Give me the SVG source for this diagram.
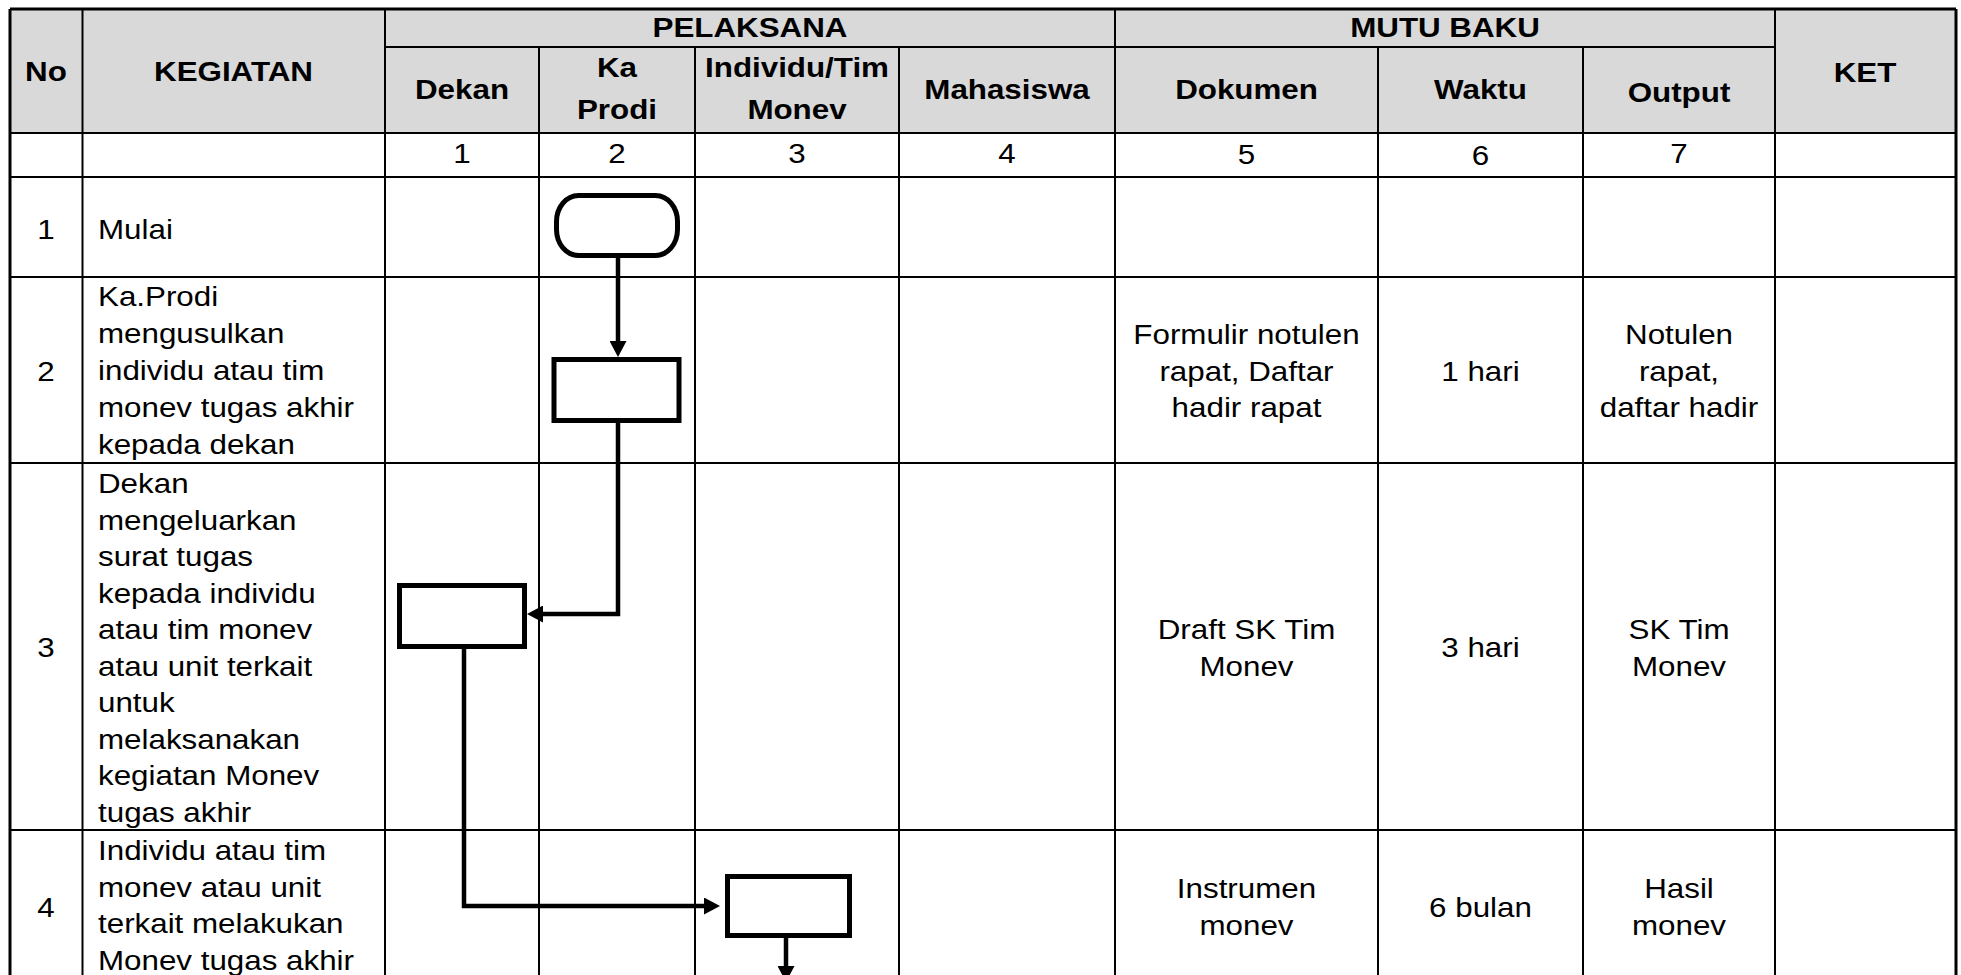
<svg xmlns="http://www.w3.org/2000/svg" width="1961" height="975" viewBox="0 0 1961 975">
<style>
  .t { font-family: "Liberation Sans", Arial, sans-serif; font-size: 28.5px; fill: #000; }
  .b { font-weight: bold; }
  .m { text-anchor: middle; }
  .grid { stroke: #000; stroke-width: 2; fill: none; }
  .outer { stroke: #000; stroke-width: 3; fill: none; }
  .shape { fill: #fff; stroke: #000; stroke-width: 5; }
  .conn { fill: none; stroke: #000; stroke-width: 4.5; }
</style>
<defs>
  <marker id="ah" markerUnits="userSpaceOnUse" markerWidth="16" markerHeight="17" viewBox="0 0 16 17" refX="8" refY="8.5" orient="auto">
    <path d="M0,0 L16,8.5 L0,17 Z" fill="#000"/>
  </marker>
</defs>
<rect width="1961" height="975" fill="#fff"/>

<g id="table">
  <rect x="10" y="9" width="1946" height="124" fill="#d9d9d9"/>
  <g class="grid">
    <line x1="385" y1="47" x2="1775" y2="47"/>
    <line x1="10" y1="133" x2="1956" y2="133"/>
    <line x1="10" y1="177" x2="1956" y2="177"/>
    <line x1="10" y1="277" x2="1956" y2="277"/>
    <line x1="10" y1="463" x2="1956" y2="463"/>
    <line x1="10" y1="830" x2="1956" y2="830"/>
    <line x1="82.5" y1="9" x2="82.5" y2="975"/>
    <line x1="385" y1="9" x2="385" y2="975"/>
    <line x1="539" y1="47" x2="539" y2="975"/>
    <line x1="695" y1="47" x2="695" y2="975"/>
    <line x1="899" y1="47" x2="899" y2="975"/>
    <line x1="1115" y1="9" x2="1115" y2="975"/>
    <line x1="1378" y1="47" x2="1378" y2="975"/>
    <line x1="1583" y1="47" x2="1583" y2="975"/>
    <line x1="1775" y1="9" x2="1775" y2="975"/>
  </g>
  <g class="outer">
    <line x1="10" y1="9" x2="1956" y2="9"/>
    <line x1="10" y1="9" x2="10" y2="975"/>
    <line x1="1956" y1="9" x2="1956" y2="975"/>
  </g>

  <g class="t b m">
    <text transform="translate(46 81) scale(1.1 1)">No</text>
    <text transform="translate(233.5 81) scale(1.1 1)">KEGIATAN</text>
    <text transform="translate(750 37) scale(1.1 1)">PELAKSANA</text>
    <text transform="translate(1445 37) scale(1.1 1)">MUTU BAKU</text>
    <text transform="translate(1865 82) scale(1.1 1)">KET</text>
    <text transform="translate(462 99) scale(1.1 1)">Dekan</text>
    <text transform="translate(617 77) scale(1.1 1)">Ka</text>
    <text transform="translate(617 119) scale(1.1 1)">Prodi</text>
    <text transform="translate(797 77) scale(1.1 1)">Individu/Tim</text>
    <text transform="translate(797 119) scale(1.1 1)">Monev</text>
    <text transform="translate(1007 99) scale(1.1 1)">Mahasiswa</text>
    <text transform="translate(1246.5 99) scale(1.1 1)">Dokumen</text>
    <text transform="translate(1480.5 99) scale(1.1 1)">Waktu</text>
    <text transform="translate(1679 102) scale(1.1 1)">Output</text>
  </g>

  <g class="t m">
    <text transform="translate(462 163) scale(1.1 1)">1</text>
    <text transform="translate(617 163) scale(1.1 1)">2</text>
    <text transform="translate(797 163) scale(1.1 1)">3</text>
    <text transform="translate(1007 163) scale(1.1 1)">4</text>
    <text transform="translate(1246.5 164) scale(1.1 1)">5</text>
    <text transform="translate(1480.5 165) scale(1.1 1)">6</text>
    <text transform="translate(1679 163) scale(1.1 1)">7</text>

    <text transform="translate(46 239) scale(1.1 1)">1</text>
    <text transform="translate(46 381) scale(1.1 1)">2</text>
    <text transform="translate(46 657) scale(1.1 1)">3</text>
    <text transform="translate(46 917) scale(1.1 1)">4</text>

    <text transform="translate(1246.5 344) scale(1.1 1)">Formulir notulen</text>
    <text transform="translate(1246.5 381) scale(1.1 1)">rapat, Daftar</text>
    <text transform="translate(1246.5 417) scale(1.1 1)">hadir rapat</text>
    <text transform="translate(1480.5 381) scale(1.1 1)">1 hari</text>
    <text transform="translate(1679 344) scale(1.1 1)">Notulen</text>
    <text transform="translate(1679 381) scale(1.1 1)">rapat,</text>
    <text transform="translate(1679 417) scale(1.1 1)">daftar hadir</text>

    <text transform="translate(1246.5 639) scale(1.1 1)">Draft SK Tim</text>
    <text transform="translate(1246.5 676) scale(1.1 1)">Monev</text>
    <text transform="translate(1480.5 657) scale(1.1 1)">3 hari</text>
    <text transform="translate(1679 639) scale(1.1 1)">SK Tim</text>
    <text transform="translate(1679 676) scale(1.1 1)">Monev</text>

    <text transform="translate(1246.5 898) scale(1.1 1)">Instrumen</text>
    <text transform="translate(1246.5 935) scale(1.1 1)">monev</text>
    <text transform="translate(1480.5 917) scale(1.1 1)">6 bulan</text>
    <text transform="translate(1679 898) scale(1.1 1)">Hasil</text>
    <text transform="translate(1679 935) scale(1.1 1)">monev</text>
  </g>

  <g class="t">
    <text transform="translate(98 239) scale(1.1 1)">Mulai</text>

    <text transform="translate(98 306) scale(1.1 1)">Ka.Prodi</text>
    <text transform="translate(98 343) scale(1.1 1)">mengusulkan</text>
    <text transform="translate(98 380) scale(1.1 1)">individu atau tim</text>
    <text transform="translate(98 417) scale(1.1 1)">monev tugas akhir</text>
    <text transform="translate(98 454) scale(1.1 1)">kepada dekan</text>

    <text transform="translate(98 493) scale(1.1 1)">Dekan</text>
    <text transform="translate(98 529.5) scale(1.1 1)">mengeluarkan</text>
    <text transform="translate(98 566) scale(1.1 1)">surat tugas</text>
    <text transform="translate(98 602.5) scale(1.1 1)">kepada individu</text>
    <text transform="translate(98 639) scale(1.1 1)">atau tim monev</text>
    <text transform="translate(98 675.5) scale(1.1 1)">atau unit terkait</text>
    <text transform="translate(98 712) scale(1.1 1)">untuk</text>
    <text transform="translate(98 748.5) scale(1.1 1)">melaksanakan</text>
    <text transform="translate(98 785) scale(1.1 1)">kegiatan Monev</text>
    <text transform="translate(98 821.5) scale(1.1 1)">tugas akhir</text>

    <text transform="translate(98 860) scale(1.1 1)">Individu atau tim</text>
    <text transform="translate(98 897) scale(1.1 1)">monev atau unit</text>
    <text transform="translate(98 933) scale(1.1 1)">terkait melakukan</text>
    <text transform="translate(98 970) scale(1.1 1)">Monev tugas akhir</text>
  </g>
</g>

<g id="connectors">
  <line class="conn" x1="618" y1="258" x2="618" y2="349" marker-end="url(#ah)"/>
  <polyline class="conn" points="618,422 618,614 535,614" marker-end="url(#ah)"/>
  <polyline class="conn" points="464,649 464,906 712,906" marker-end="url(#ah)"/>
  <line class="conn" x1="786" y1="938" x2="786" y2="974" marker-end="url(#ah)"/>
</g>

<g id="node-mulai">
  <rect class="shape" x="556.5" y="195.5" width="121" height="60" rx="22" ry="26"/>
</g>
<g id="node-usulan">
  <rect class="shape" x="554" y="359.5" width="125" height="61"/>
</g>
<g id="node-surat-tugas">
  <rect class="shape" x="399.5" y="585.5" width="125" height="61"/>
</g>
<g id="node-monev">
  <rect class="shape" x="727.5" y="876.5" width="122" height="59"/>
</g>
</svg>
